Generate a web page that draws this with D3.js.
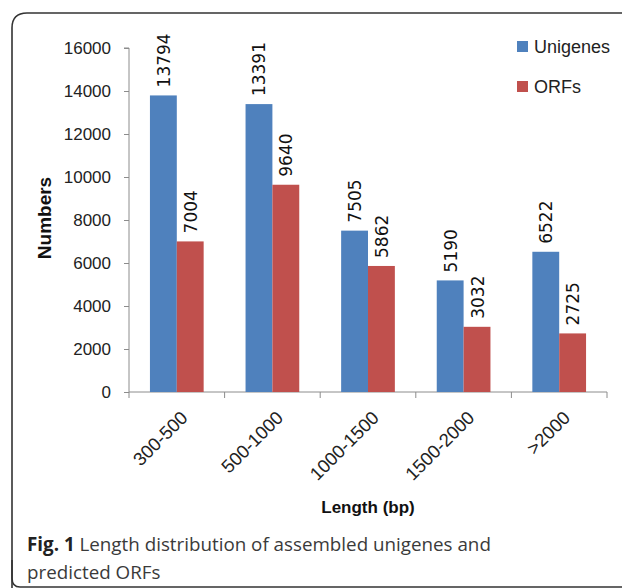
<!DOCTYPE html>
<html>
<head>
<meta charset="utf-8">
<script src="https://cdn.jsdelivr.net/npm/d3@7/dist/d3.min.js"></script>
<style>
  html, body { margin: 0; padding: 0; background: #fff; }
  svg { display: block; }
</style>
</head>
<body>
<svg id="chart" width="622" height="588"></svg>
<script>
// Length bins and counts per series
const categories = ["300-500", "500-1000", "1000-1500", "1500-2000", ">2000"];
const seriesNames = ["Unigenes", "ORFs"];
const unigenes = [13794, 13391, 7505, 5190, 6522];
const orfs = [7004, 9640, 5862, 3032, 2725];
const yTicks = [0, 2000, 4000, 6000, 8000, 10000, 12000, 14000, 16000];
const colors = ["#4F81BD", "#C0504D"];

const svg = d3.select("#chart");
const font = "'Liberation Sans', Arial, sans-serif";
const labelFont = "'DejaVu Sans', Verdana, sans-serif";
const captionFont = "'Open Sans', 'Noto Sans', sans-serif";

// Figure frame
svg.append("path")
  .attr("d", "M 12 600 L 12 28 Q 12 13 27 13 L 630 13")
  .attr("fill", "none").attr("stroke", "#333").attr("stroke-width", 1.6);
svg.append("path")
  .attr("d", "M 12 560 L 12 578 Q 12 587 20 587 L 630 587")
  .attr("fill", "none").attr("stroke", "#333").attr("stroke-width", 1.6);

const plot = { left: 129, right: 607, top: 48, bottom: 392 };

const x0 = d3.scaleBand().domain(categories).range([plot.left, plot.right]);
const x1 = d3.scaleBand().domain(seriesNames).range([0, x0.bandwidth()]).paddingOuter(0.78);
const y = d3.scaleLinear().domain([0, 16000]).range([plot.bottom, plot.top]);

const rows = categories.map((c, i) => ({ cat: c, vals: [unigenes[i], orfs[i]] }));

// Y axis
const yAxis = d3.axisLeft(y).tickValues(yTicks).tickSize(5).tickPadding(13).tickFormat(d3.format("d"));
const gy = svg.append("g").attr("transform", `translate(${plot.left},0)`).call(yAxis);
gy.select(".domain").attr("stroke", "#8c8c8c").attr("d", `M-5,${plot.top}H0V${plot.bottom}`);
gy.selectAll(".tick line").attr("stroke", "#8c8c8c");
gy.selectAll(".tick text").attr("font-family", font).attr("font-size", 17).attr("fill", "#222");

// X axis with ticks on category boundaries
const gx = svg.append("g").attr("transform", `translate(0,${plot.bottom})`);
gx.append("line").attr("x1", plot.left).attr("x2", plot.right).attr("y1", 0).attr("y2", 0).attr("stroke", "#8c8c8c");
const boundaries = categories.map(c => x0(c)).concat([plot.right]);
gx.selectAll("line.tk").data(boundaries).join("line").attr("class", "tk")
  .attr("x1", d => d).attr("x2", d => d).attr("y1", 0).attr("y2", 6).attr("stroke", "#8c8c8c");
gx.selectAll("text.cat").data(categories).join("text").attr("class", "cat")
  .attr("transform", d => `translate(${x0(d) + x0.bandwidth() / 2 + 12},${27}) rotate(-45)`)
  .attr("text-anchor", "end")
  .attr("font-family", font).attr("font-size", 18.5).attr("fill", "#222")
  .text(d => d);

// Bars
const groups = svg.append("g").selectAll("g").data(rows).join("g")
  .attr("transform", d => `translate(${x0(d.cat)},0)`);
groups.selectAll("rect").data(d => d.vals.map((v, k) => ({ k, v })))
  .join("rect")
  .attr("x", d => x1(seriesNames[d.k]))
  .attr("y", d => y(d.v))
  .attr("width", x1.bandwidth())
  .attr("height", d => y(0) - y(d.v))
  .attr("fill", d => colors[d.k]);

// Value labels, rotated above bars
groups.selectAll("text").data(d => d.vals.map((v, k) => ({ k, v })))
  .join("text")
  .attr("transform", d => `translate(${x1(seriesNames[d.k]) + x1.bandwidth() / 2 + 6.5},${y(d.v) - 8}) rotate(-90)`)
  .attr("text-anchor", "start")
  .attr("font-family", labelFont).attr("font-size", 17).attr("fill", "#111")
  .text(d => d.v);

// Axis titles
svg.append("text")
  .attr("transform", `translate(51,${(plot.top + plot.bottom) / 2 - 2}) rotate(-90)`)
  .attr("text-anchor", "middle")
  .attr("font-family", font).attr("font-size", 19).attr("font-weight", "bold").attr("fill", "#111")
  .text("Numbers");
svg.append("text")
  .attr("x", (plot.left + plot.right) / 2).attr("y", 513)
  .attr("text-anchor", "middle")
  .attr("font-family", font).attr("font-size", 17).attr("font-weight", "bold").attr("fill", "#111")
  .text("Length (bp)");

// Legend
const legend = svg.append("g").attr("transform", "translate(517,34)");
seriesNames.forEach((name, i) => {
  const g = legend.append("g").attr("transform", `translate(0,${i * 40})`);
  g.append("rect").attr("width", 11).attr("height", 11).attr("y", 7).attr("fill", colors[i]);
  g.append("text").attr("x", 17).attr("y", 19)
    .attr("font-family", font).attr("font-size", 18).attr("fill", "#222").text(name);
});

// Caption
const cap = svg.append("text").attr("x", 27).attr("y", 551)
  .attr("font-family", captionFont).attr("font-size", 18.8).attr("fill", "#3a3a3a");
cap.append("tspan").attr("font-weight", "bold").attr("fill", "#222").text("Fig. 1");
cap.append("tspan").text(" Length distribution of assembled unigenes and");
svg.append("text").attr("x", 27).attr("y", 579)
  .attr("font-family", captionFont).attr("font-size", 18.8).attr("fill", "#3a3a3a")
  .text("predicted ORFs");
</script>
</body>
</html>
